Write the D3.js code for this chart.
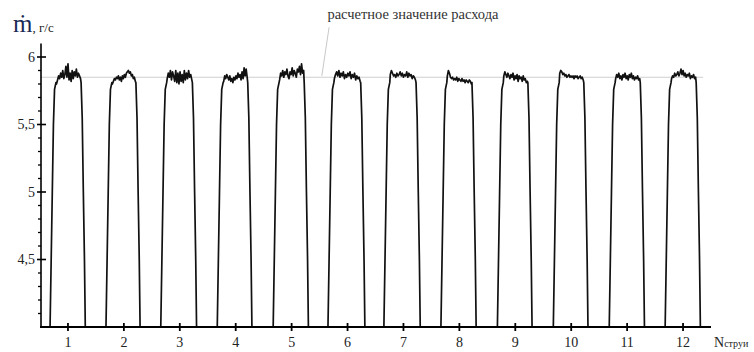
<!DOCTYPE html>
<html>
<head>
<meta charset="utf-8">
<script src="https://cdn.jsdelivr.net/npm/d3@7"></script>
<style>
  html, body { margin: 0; padding: 0; background: #fff; }
  svg { display: block; }
  svg text { font-family: "Liberation Serif", "Times New Roman", "DejaVu Serif", serif; }
</style>
</head>
<body>
<svg id="chart" width="754" height="352"></svg>
<script>
// ---- data ----
const jetNumbers = [1, 2, 3, 4, 5, 6, 7, 8, 9, 10, 11, 12];
const yTickValues = [4.5, 5, 5.5, 6];
const yTickLabels = ["4,5", "5", "5,5", "6"];
const designFlow = 5.85;            // расчетное значение расхода
const baseLevel = 4.0;              // trace falls to the axis between jets
// start (rise) and end (fall) of each jet pulse, in jet-number units
const pulseStart = [0.68, 1.68, 2.66, 3.67, 4.67, 5.65, 6.65, 7.67, 8.68, 9.68, 10.68, 11.68];
const pulseEnd   = [1.31, 2.29, 3.30, 4.29, 5.30, 6.31, 7.30, 8.30, 9.30, 10.30, 11.31, 12.31];
// rise / fall profile (offset from start / end, value)
const riseOffsets = [0, 0.02, 0.04, 0.06, 0.08, 0.105];
const riseValues  = [4.0, 4.5, 5.0, 5.5, 5.76, 5.81];
const fallOffsets = [0.075, 0.055, 0.035, 0.015, 0];
const fallValues  = [5.81, 5.55, 5.0, 4.5, 4.0];
// plateau samples of each pulse
const plateau1  = [5.80, 5.83, 5.86, 5.84, 5.88, 5.85, 5.90, 5.84, 5.87, 5.93, 5.85, 5.95, 5.83, 5.88, 5.82, 5.90, 5.84, 5.89, 5.86, 5.91, 5.85, 5.88, 5.86, 5.84];
const plateau2  = [5.80, 5.82, 5.84, 5.83, 5.85, 5.84, 5.86, 5.83, 5.85, 5.82, 5.86, 5.84, 5.87, 5.85, 5.88, 5.89, 5.90, 5.88, 5.89, 5.86, 5.87, 5.84, 5.85, 5.82];
const plateau3  = [5.84, 5.88, 5.85, 5.90, 5.83, 5.89, 5.86, 5.82, 5.90, 5.81, 5.88, 5.80, 5.89, 5.82, 5.87, 5.81, 5.90, 5.83, 5.88, 5.84, 5.90, 5.85, 5.87, 5.83];
const plateau4  = [5.82, 5.86, 5.84, 5.87, 5.85, 5.83, 5.86, 5.82, 5.84, 5.81, 5.85, 5.83, 5.86, 5.84, 5.88, 5.85, 5.87, 5.83, 5.89, 5.84, 5.92, 5.86, 5.91, 5.85];
const plateau5  = [5.83, 5.88, 5.86, 5.90, 5.85, 5.89, 5.87, 5.91, 5.86, 5.84, 5.89, 5.87, 5.92, 5.86, 5.90, 5.88, 5.85, 5.91, 5.89, 5.93, 5.87, 5.95, 5.88, 5.90];
const plateau6  = [5.84, 5.87, 5.89, 5.86, 5.90, 5.85, 5.88, 5.86, 5.89, 5.84, 5.87, 5.85, 5.88, 5.86, 5.89, 5.84, 5.87, 5.85, 5.88, 5.83, 5.86, 5.84, 5.85, 5.82];
const plateau7  = [5.87, 5.90, 5.88, 5.86, 5.87, 5.85, 5.88, 5.86, 5.87, 5.89, 5.86, 5.88, 5.85, 5.87, 5.86, 5.89, 5.85, 5.88, 5.86, 5.87, 5.84, 5.86, 5.85, 5.83];
const plateau8  = [5.86, 5.90, 5.88, 5.85, 5.84, 5.85, 5.83, 5.84, 5.83, 5.85, 5.82, 5.84, 5.83, 5.82, 5.84, 5.82, 5.83, 5.81, 5.83, 5.82, 5.81, 5.83, 5.82, 5.80];
const plateau9  = [5.86, 5.89, 5.87, 5.85, 5.88, 5.86, 5.84, 5.87, 5.85, 5.88, 5.83, 5.86, 5.84, 5.87, 5.82, 5.86, 5.84, 5.85, 5.82, 5.86, 5.83, 5.84, 5.81, 5.82];
const plateau10 = [5.88, 5.90, 5.89, 5.87, 5.88, 5.86, 5.87, 5.85, 5.86, 5.87, 5.85, 5.86, 5.85, 5.86, 5.84, 5.86, 5.85, 5.86, 5.84, 5.85, 5.86, 5.84, 5.85, 5.83];
const plateau11 = [5.84, 5.87, 5.85, 5.88, 5.84, 5.86, 5.83, 5.87, 5.85, 5.88, 5.84, 5.86, 5.83, 5.87, 5.85, 5.88, 5.84, 5.86, 5.83, 5.85, 5.84, 5.86, 5.83, 5.84];
const plateau12 = [5.84, 5.86, 5.85, 5.88, 5.86, 5.87, 5.89, 5.86, 5.88, 5.91, 5.87, 5.90, 5.86, 5.88, 5.85, 5.87, 5.86, 5.88, 5.84, 5.86, 5.85, 5.87, 5.84, 5.85];
const plateaus = [plateau1, plateau2, plateau3, plateau4, plateau5, plateau6,
                  plateau7, plateau8, plateau9, plateau10, plateau11, plateau12];

// ---- chart ----
const svg = d3.select("#chart");
const x = d3.scaleLinear().domain([0.5, 12.5]).range([40, 711]);
const y = d3.scaleLinear().domain([4, 6]).range([327, 57]);
const yTop = 6.1;

// build pulse point lists
const pulses = jetNumbers.map((n, i) => {
  const pts = [];
  const s = pulseStart[i], e = pulseEnd[i];
  riseOffsets.forEach((o, k) => pts.push([s + o, riseValues[k]]));
  const p = plateaus[i];
  const a = s + riseOffsets[riseOffsets.length - 1] + 0.01;
  const b = e - fallOffsets[0] - 0.01;
  p.forEach((v, k) => pts.push([a + (b - a) * k / (p.length - 1), v]));
  fallOffsets.forEach((o, k) => pts.push([e - o, fallValues[k]]));
  return pts;
});

// design flow reference line
svg.append("line")
  .attr("x1", x(0.5)).attr("x2", x(12.36))
  .attr("y1", y(designFlow)).attr("y2", y(designFlow))
  .attr("stroke", "#cfcfcf").attr("stroke-width", 1);

// leader line for annotation
svg.append("line")
  .attr("x1", x(5.67)).attr("y1", y(6.22))
  .attr("x2", x(5.54)).attr("y2", y(5.86))
  .attr("stroke", "#c8c8c8").attr("stroke-width", 1);

svg.append("text")
  .attr("x", x(5.64)).attr("y", 19)
  .attr("font-size", 14.5).attr("fill", "#333")
  .text("расчетное значение расхода");

// pulses
const line = d3.line().x(d => x(d[0])).y(d => y(d[1])).curve(d3.curveLinear);
svg.append("g").selectAll("path").data(pulses).join("path")
  .attr("d", line)
  .attr("fill", "none").attr("stroke", "#111")
  .attr("stroke-width", 1.7).attr("stroke-linejoin", "round");

// y axis
const yAxisG = svg.append("g").attr("transform", `translate(${x(0.5) + 1},0)`);
yAxisG.append("line")
  .attr("x1", 0).attr("x2", 0).attr("y1", y(yTop)).attr("y2", y(4))
  .attr("stroke", "#000").attr("stroke-width", 1.6);
const minorY = d3.range(41, 61).map(v => v / 10).filter(v => !yTickValues.some(t => Math.abs(t - v) < 1e-6));
yAxisG.selectAll(".minor").data(minorY).join("line")
  .attr("x1", -3).attr("x2", 0)
  .attr("y1", d => y(d)).attr("y2", d => y(d))
  .attr("stroke", "#000").attr("stroke-width", 1.3);
yAxisG.selectAll(".major").data(yTickValues).join("line")
  .attr("x1", -4).attr("x2", 5)
  .attr("y1", d => y(d)).attr("y2", d => y(d))
  .attr("stroke", "#000").attr("stroke-width", 1.6);
yAxisG.selectAll(".lbl").data(yTickValues).join("text")
  .attr("x", -6).attr("y", d => y(d) + 4.5)
  .attr("text-anchor", "end").attr("font-size", 14).attr("fill", "#222")
  .text((d, i) => yTickLabels[i]);

// x axis
const xAxisG = svg.append("g").attr("transform", `translate(0,${y(4)})`);
xAxisG.append("line")
  .attr("x1", x(0.5)).attr("x2", x(12.5))
  .attr("y1", 0).attr("y2", 0)
  .attr("stroke", "#000").attr("stroke-width", 1.8);
xAxisG.selectAll(".tick").data(jetNumbers).join("line")
  .attr("x1", d => x(d)).attr("x2", d => x(d))
  .attr("y1", -4).attr("y2", 4)
  .attr("stroke", "#000").attr("stroke-width", 1.8);
xAxisG.selectAll(".lbl").data(jetNumbers).join("text")
  .attr("x", d => x(d)).attr("y", 20)
  .attr("text-anchor", "middle").attr("font-size", 14).attr("fill", "#222")
  .text(d => d);

// x axis title
const xt = svg.append("text").attr("x", x(12.5) + 3).attr("y", y(4) + 20).attr("fill", "#222");
xt.append("tspan").attr("font-size", 14).text("N");
xt.append("tspan").attr("font-size", 10).text("струи");

// y axis title
const yt = svg.append("text").attr("x", 13).attr("y", 32).attr("fill", "#1a2a55");
yt.append("tspan").attr("font-size", 25).text("ṁ");
yt.append("tspan").attr("font-size", 13).attr("fill", "#222").text(", г/с");
</script>
</body>
</html>
